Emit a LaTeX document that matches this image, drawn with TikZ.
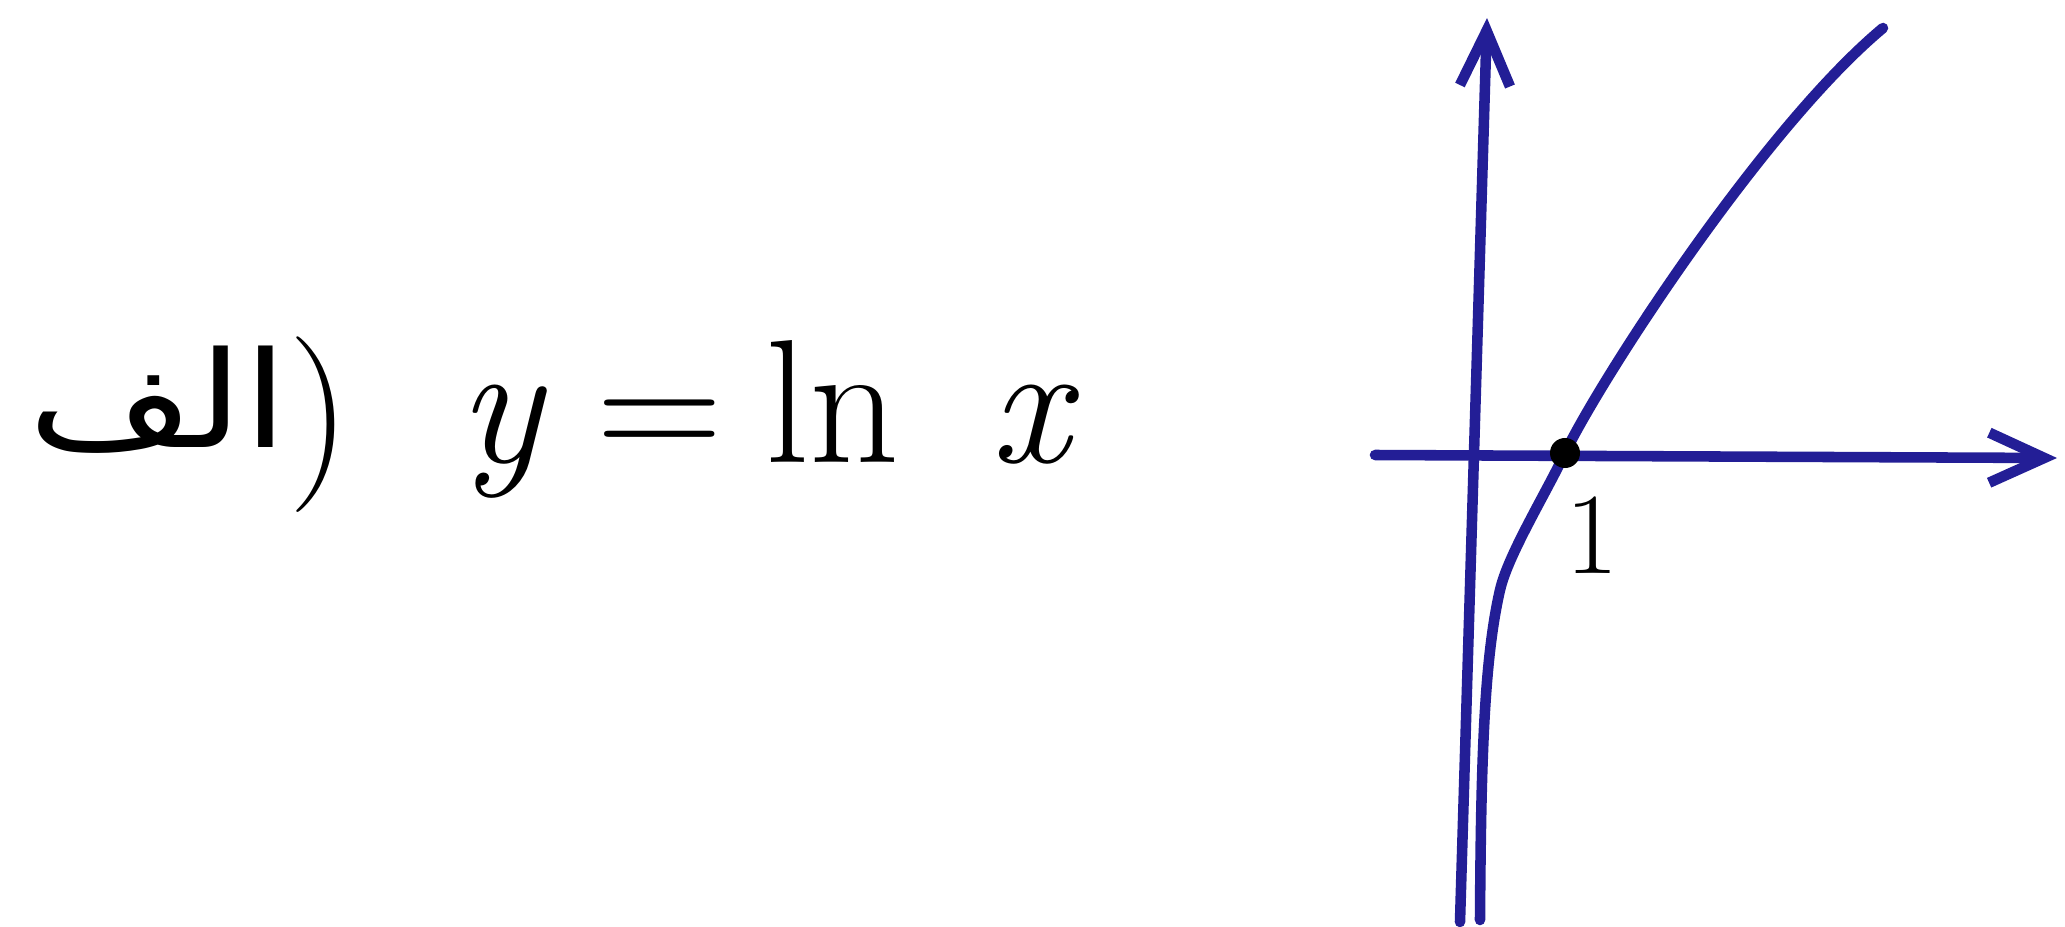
\documentclass[tikz,border=0pt]{standalone}
\usepackage{fontspec}
\usepackage{graphicx}
\newfontfamily\arabicfont[Script=Arabic]{DejaVu Sans}
\TeXXeTstate=1
\usetikzlibrary{arrows.meta,positioning}
\definecolor{penblue}{RGB}{35,30,150}

\begin{document}
\begin{tikzpicture}[x=0.01cm,y=-0.01cm,
  axis/.style={penblue,line width=3pt,line cap=round,-{Straight Barb[length=5.5mm,width=5mm]}},
  curve/.style={penblue,line width=3pt,line cap=round},
  handtext/.style={font=\fontsize{50}{56}\selectfont,inner sep=0pt}]
\useasboundingbox (0,0) rectangle (2065,927);

% label and equation
\node[handtext,anchor=base west] (part) at (28,447) {\scalebox{1.2}[1]{\fontsize{38}{44}\selectfont\arabicfont\beginR الف\endR}\raisebox{-0.12em}{)}};
\node[handtext,anchor=base west] (eq) at (458,462) {\textit{y}\hspace{14pt}=\hspace{12pt}ln\hspace{26pt}\textit{x}};

% axes
\coordinate (xl) at (1375,455);
\coordinate (xr) at (2057,458);
\coordinate (yb) at (1460,922);
\coordinate (yt) at (1487,18);
\draw[axis] (xl) -- (xr);
\draw[axis] (yb) -- (yt);

% curve y = ln x
\coordinate (p1) at (1565,453);
\draw[curve] (1480,920) .. controls (1481,760) and (1484,660) .. (1500,590)
  .. controls (1508,555) and (1545,495) .. (p1)
  .. controls (1600,380) and (1763,128) .. (1883,28);
\node[circle,fill=black,inner sep=0pt,minimum size=0.3cm] (one) at (p1) {};
\node[font=\fontsize{33}{38}\selectfont,inner sep=0pt,below=0.27cm of one,xshift=0.27cm] (onelbl) {1};
\end{tikzpicture}
\end{document}
